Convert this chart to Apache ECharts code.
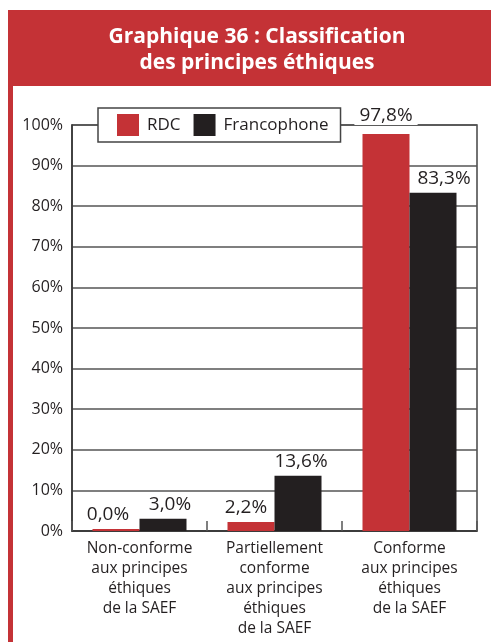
<!DOCTYPE html>
<html><head><meta charset="utf-8">
<script src="https://cdn.jsdelivr.net/npm/echarts@6/dist/echarts.min.js"></script>
<style>html,body{margin:0;padding:0;background:#fff}#c{width:491px;height:642px}</style>
</head><body><div id="c"></div>
<script>
const titleLines = ['Graphique 36 : Classification', 'des principes éthiques'];
const categories = [
  'Non-conforme\naux principes\néthiques\nde la SAEF',
  'Partiellement\nconforme\naux principes\néthiques\nde la SAEF',
  'Conforme\naux principes\néthiques\nde la SAEF'
];
const seriesNames = ['RDC', 'Francophone'];
const rdcValues = [0.0, 2.2, 97.8];
const francophoneValues = [3.0, 13.6, 83.3];
const yMin = 0, yMax = 100, yInterval = 10;

const RED = '#c43236', DARK = '#231f20';
const FONT = '"Open Sans", "Noto Sans", sans-serif';
const rdcOffsets = [[-8, 0], [-5, 0], [0, -4]];
const frOffsets = [[7, 0], [3, 0], [11, 0]];

const fmt = v => v.toFixed(1).replace('.', ',') + '%';

function makeData(vals, offs, idxWhite) {
  return vals.map((v, i) => ({
    value: v,
    label: Object.assign({ offset: offs[i] }, i === idxWhite ? { backgroundColor: '#fff', padding: [0, 5] } : {})
  }));
}

const chart = echarts.init(document.getElementById('c'), null, { renderer: 'canvas' });
chart.setOption({
  animation: false,
  backgroundColor: '#fff',
  textStyle: { fontFamily: FONT },
  graphic: [
    { type: 'rect', shape: { x: 8, y: 10, width: 500, height: 76 }, style: { fill: RED }, z: 10 },
    { type: 'rect', shape: { x: 8, y: 86, width: 5, height: 600 }, style: { fill: RED }, z: 10 },
    { type: 'text', x: 257, y: 24, z: 11,
      style: { text: titleLines.join('\n'), fill: '#fff', font: 'bold 21px ' + FONT, textAlign: 'center', lineHeight: 26 } }
  ],
  legend: {
    data: seriesNames,
    left: 98, top: 108,
    padding: [6, 12, 6, 19],
    itemGap: 13,
    itemWidth: 22, itemHeight: 22,
    icon: 'rect',
    backgroundColor: '#fff',
    borderColor: '#444', borderWidth: 1.5,
    borderRadius: 0,
    textStyle: { fontSize: 17, color: DARK, fontFamily: FONT, padding: [0, 0, 0, 3] },
    z: 5
  },
  grid: {
    left: 72, right: 14, top: 125, bottom: 111,
    show: true, borderColor: '#444', borderWidth: 1.5, backgroundColor: 'transparent'
  },
  xAxis: {
    type: 'category', data: categories,
    axisLine: { lineStyle: { color: '#333', width: 1.5 } },
    axisTick: { show: true, inside: true, length: 10, interval: 0, lineStyle: { color: '#555', width: 1.5 } },
    axisLabel: { interval: 0, fontSize: 15.5, lineHeight: 20, color: DARK, margin: 8, fontFamily: FONT, verticalAlign: 'top' }
  },
  yAxis: {
    type: 'value', min: yMin, max: yMax, interval: yInterval,
    axisLine: { show: true, lineStyle: { color: '#333', width: 1.5 } },
    axisTick: { show: false },
    axisLabel: { formatter: '{value}%', fontSize: 16, color: DARK, margin: 9, fontFamily: FONT },
    splitLine: { show: true, lineStyle: { color: '#555', width: 1.5 } }
  },
  series: [
    { name: seriesNames[0], type: 'bar', data: makeData(rdcValues, rdcOffsets, 2),
      barWidth: 47, barGap: '0%', barMinHeight: 2,
      itemStyle: { color: RED },
      label: { show: true, position: 'top', distance: 5, fontSize: 19, color: DARK, fontFamily: FONT, formatter: p => fmt(p.value) } },
    { name: seriesNames[1], type: 'bar', data: makeData(francophoneValues, frOffsets, -1),
      barWidth: 47, barGap: '0%',
      itemStyle: { color: DARK },
      label: { show: true, position: 'top', distance: 5, fontSize: 19, color: DARK, fontFamily: FONT, formatter: p => fmt(p.value) } }
  ]
});
</script></body></html>
